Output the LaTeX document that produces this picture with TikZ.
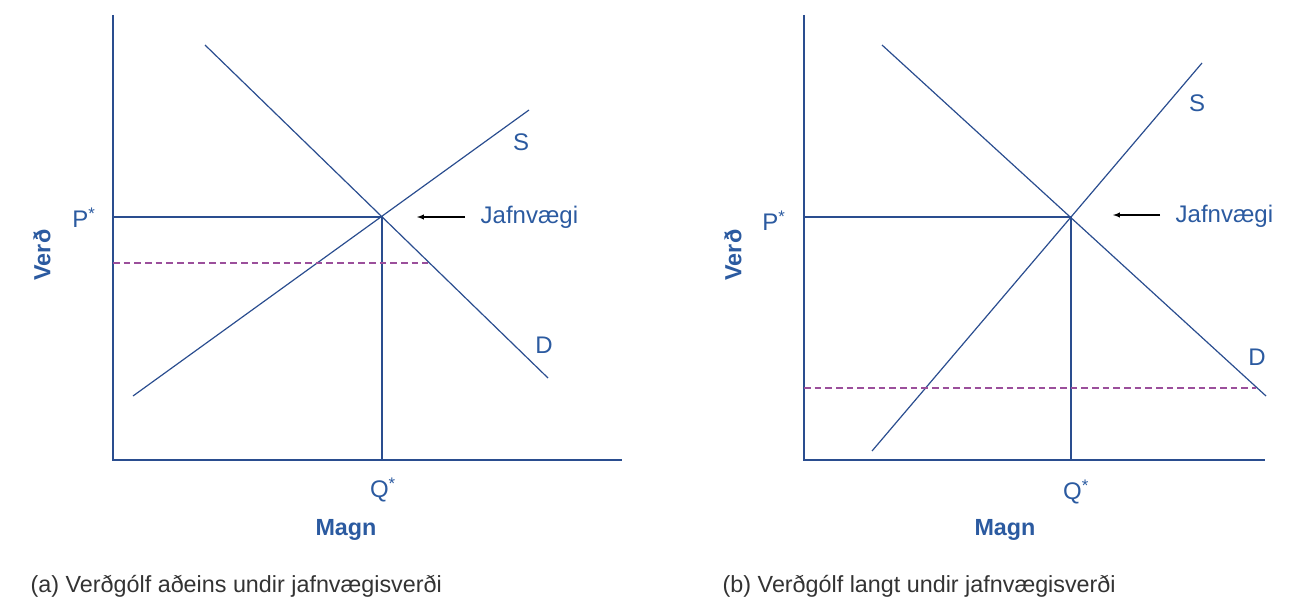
\documentclass[tikz,border=0pt]{standalone}
\usepackage{fontspec}
\setmainfont{Liberation Sans}
\begin{document}
\begin{tikzpicture}[x=0.75pt,y=-0.75pt,
 ln/.style={draw=lc,line width=0.9pt},
 lab/.style={text=tc,font=\fontsize{18}{21}\selectfont},
 bl/.style={text=tc,font=\fontsize{17.5}{21}\selectfont\bfseries},
 captxt/.style={text=black!80,font=\fontsize{17.5}{21}\selectfont,anchor=west},
 dsh/.style={draw=pc,line width=0.9pt,dash pattern=on 5pt off 3pt}]
\definecolor{lc}{HTML}{2A4D8F}\definecolor{tc}{HTML}{2B5AA0}\definecolor{pc}{HTML}{9B4F9B}
\useasboundingbox (0,0) rectangle (1301,610);
% panel a
\coordinate (ya) at (113,15); \coordinate (oa) at (113,460); \coordinate (xa) at (622,460);
\draw[ln] (ya) -- (oa) -- (xa);
\coordinate (d1) at (205,45); \coordinate (d2) at (548,378);
\coordinate (s1) at (133,396); \coordinate (s2) at (529,110);
\draw[ln] (d1) -- (d2); \draw[ln] (s1) -- (s2);
\coordinate (ea) at (382,217); \coordinate (pa) at (113,217); \coordinate (qa) at (382,460);
\draw[ln] (pa) -- (ea) -- (qa);
\coordinate (fa1) at (113,263); \coordinate (fa2) at (428,263);
\draw[dsh] (fa1) -- (fa2);
\coordinate (aa1) at (465,217); \coordinate (aa2) at (417,217);
\draw[-latex,black,line width=0.8pt] (aa1) -- (aa2);
\node[lab,anchor=west] (ja) at (476,217) {Jafnvægi};
\node[lab] (sa) at (521,142) {S};
\node[lab] (da) at (544,345) {D};
\node[lab] (psa) at (84,218) {P\textsuperscript{*}};
\node[lab] (qsa) at (383,490) {Q\textsuperscript{*}};
\node[bl,rotate=90] (va) at (42,255) {Verð};
\node[bl] (ma) at (346,530) {Magn};
\node[captxt] (ca) at (26,586) {(a) Verðgólf aðeins undir jafnvægisverði};
% panel b
\coordinate (yb) at (804,15); \coordinate (ob) at (804,460); \coordinate (xb) at (1265,460);
\draw[ln] (yb) -- (ob) -- (xb);
\coordinate (e1) at (882,45); \coordinate (e2) at (1266,396);
\coordinate (t1) at (872,451); \coordinate (t2) at (1202,63);
\draw[ln] (e1) -- (e2); \draw[ln] (t1) -- (t2);
\coordinate (eb) at (1071,217); \coordinate (pb) at (804,217); \coordinate (qb) at (1071,460);
\draw[ln] (pb) -- (eb) -- (qb);
\coordinate (fb1) at (804,388); \coordinate (fb2) at (1256,388);
\draw[dsh] (fb1) -- (fb2);
\coordinate (ab1) at (1160,215); \coordinate (ab2) at (1113,215);
\draw[-latex,black,line width=0.8pt] (ab1) -- (ab2);
\node[lab,anchor=west] (jb) at (1171,216) {Jafnvægi};
\node[lab] (sb) at (1197,103) {S};
\node[lab] (db) at (1257,357) {D};
\node[lab] (psb) at (774,221) {P\textsuperscript{*}};
\node[lab] (qsb) at (1076,492) {Q\textsuperscript{*}};
\node[bl,rotate=90] (vb) at (733,255) {Verð};
\node[bl] (mb) at (1005,530) {Magn};
\node[captxt] (cb) at (718,586) {(b) Verðgólf langt undir jafnvægisverði};
\end{tikzpicture}
\end{document}
